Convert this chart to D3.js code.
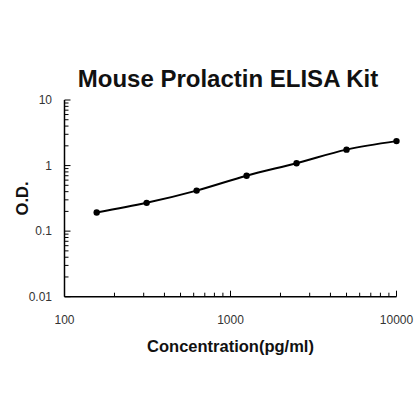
<!DOCTYPE html>
<html><head><meta charset="utf-8">
<script src="https://cdn.jsdelivr.net/npm/d3@7"></script>
<style>body{margin:0;background:#fff}svg{display:block}</style>
</head><body>
<svg id="c" width="420" height="419"></svg>
<script>
const concentrations = [156.25, 312.5, 625, 1250, 2500, 5000, 10000];
const odValues = [0.192, 0.27, 0.415, 0.70, 1.087, 1.75, 2.36];
const xTickLabels = [100, 1000, 10000];
const yTickLabels = [0.01, 0.1, 1, 10];

const svg = d3.select("#c");
const x = d3.scaleLog().domain([100, 10000]).range([64.5, 396.5]);
const y = d3.scaleLog().domain([0.01, 10]).range([296.7, 100]);
const font = "Liberation Sans, Arial, sans-serif";

// minor ticks
const xMinor = [];
for (let d = 100; d < 10000; d *= 10) for (let k = 2; k <= 9; k++) xMinor.push(d * k);
const yMinor = [];
for (let d = 0.01; d < 10; d *= 10) for (let k = 2; k <= 9; k++) yMinor.push(d * k);

svg.append("g").selectAll("line").data(xMinor).join("line")
  .attr("x1", d => x(d)).attr("x2", d => x(d))
  .attr("y1", y(0.01)).attr("y2", y(0.01) - 4)
  .attr("stroke", "#000").attr("stroke-width", 1);
svg.append("g").selectAll("line").data(xTickLabels).join("line")
  .attr("x1", d => x(d)).attr("x2", d => x(d))
  .attr("y1", y(0.01)).attr("y2", y(0.01) - 6)
  .attr("stroke", "#000").attr("stroke-width", 1);
svg.append("g").selectAll("line").data(yMinor).join("line")
  .attr("x1", x(100)).attr("x2", x(100) + 4)
  .attr("y1", d => y(d)).attr("y2", d => y(d))
  .attr("stroke", "#000").attr("stroke-width", 1);
svg.append("g").selectAll("line").data(yTickLabels).join("line")
  .attr("x1", x(100)).attr("x2", x(100) + 6)
  .attr("y1", d => y(d)).attr("y2", d => y(d))
  .attr("stroke", "#000").attr("stroke-width", 1);

// axis lines
svg.append("line").attr("x1", x(100)).attr("x2", x(100)).attr("y1", y(10)).attr("y2", y(0.01))
  .attr("stroke", "#000").attr("stroke-width", 1.5);
svg.append("line").attr("x1", x(100)).attr("x2", x(10000)).attr("y1", y(0.01)).attr("y2", y(0.01))
  .attr("stroke", "#000").attr("stroke-width", 1.5);

// tick labels
svg.append("g").selectAll("text").data(xTickLabels).join("text")
  .attr("x", d => x(d)).attr("y", 323.5).attr("text-anchor", "middle")
  .attr("font-family", font).attr("font-size", 12).attr("fill", "#333").text(d => d);
svg.append("g").selectAll("text").data(yTickLabels).join("text")
  .attr("x", 52).attr("y", d => y(d) + 4).attr("text-anchor", "end")
  .attr("font-family", font).attr("font-size", 12).attr("fill", "#333").text(d => d);

// curve
const line = d3.line().x((d, i) => x(concentrations[i])).y(d => y(d)).curve(d3.curveMonotoneX);
svg.append("path").datum(odValues).attr("d", line)
  .attr("fill", "none").attr("stroke", "#000").attr("stroke-width", 2);
svg.append("g").selectAll("circle").data(odValues).join("circle")
  .attr("cx", (d, i) => x(concentrations[i])).attr("cy", d => y(d)).attr("r", 3.2).attr("fill", "#000");

// titles
svg.append("text").attr("x", 228).attr("y", 86.5).attr("text-anchor", "middle")
  .attr("font-family", font).attr("font-weight", "bold").attr("font-size", 24).attr("fill", "#111")
  .text("Mouse Prolactin ELISA Kit");
svg.append("text").attr("x", 230.5).attr("y", 351.5).attr("text-anchor", "middle")
  .attr("font-family", font).attr("font-weight", "bold").attr("font-size", 16.5).attr("fill", "#111")
  .text("Concentration(pg/ml)");
svg.append("text").attr("transform", "translate(27.5,198.5) rotate(-90)").attr("text-anchor", "middle")
  .attr("font-family", font).attr("font-weight", "bold").attr("font-size", 16.5).attr("fill", "#111")
  .text("O.D.");
</script>
</body></html>
